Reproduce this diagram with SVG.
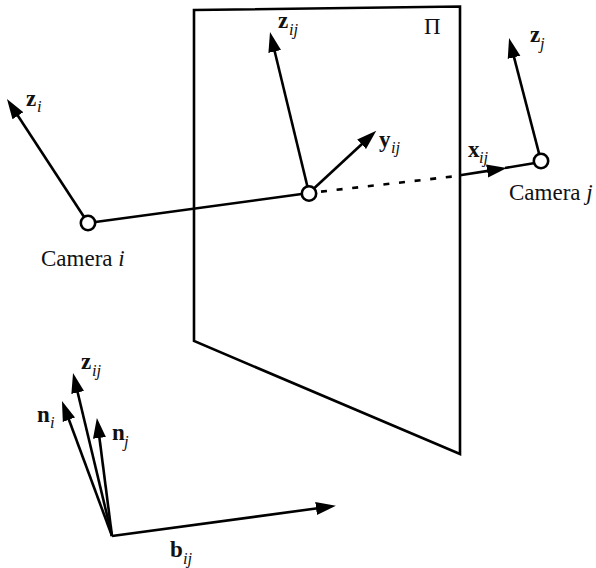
<svg xmlns="http://www.w3.org/2000/svg" width="596" height="568" viewBox="0 0 596 568">
<style>
text{font-family:"Liberation Serif","Times New Roman",serif;font-size:23px;fill:#111}
.b{font-weight:bold}
.s{font-style:italic;font-size:16.5px}
.i{font-style:italic}
.l{fill:none;stroke:#000;stroke-width:2.6}
.a{marker-end:url(#h)}
.n{fill:#fff;stroke:#000;stroke-width:2.6}
</style>
<defs>
<marker id="h" markerUnits="userSpaceOnUse" markerWidth="21" markerHeight="15" viewBox="0 0 21 15" refX="9" refY="7.5" orient="auto">
<polygon points="0,1 20,7.5 0,14" fill="#000"/>
</marker>
</defs>
<g id="plane"><path class="l" d="M194,10 L460,6.5 L460,454 L194,341 Z"/></g>
<g id="connectors">
<line class="l" x1="309" y1="193" x2="88" y2="223"/>
<line class="l" x1="321" y1="191.6" x2="452" y2="176.6" stroke-dasharray="6 9.7"/>
<line class="l a" x1="460" y1="175.3" x2="496" y2="169.6"/>
<line class="l" x1="505" y1="168" x2="541" y2="162"/>
<line class="l a" x1="88" y1="223" x2="13" y2="108.2"/>
<line class="l a" x1="309" y1="193" x2="272.6" y2="42.7"/>
<line class="l a" x1="309" y1="193" x2="368.2" y2="138.2"/>
<line class="l a" x1="541" y1="161" x2="511.8" y2="48.6"/>
<line class="l a" x1="112" y1="536" x2="75.6" y2="383.7"/>
<line class="l a" x1="112" y1="536" x2="65.8" y2="411.3"/>
<line class="l a" x1="112" y1="536" x2="98.3" y2="429"/>
<line class="l a" x1="112" y1="536" x2="325" y2="507.3"/>
</g>
<g id="camera-i"><circle class="n" cx="88" cy="223" r="7.2"/><text x="41" y="266">Camera <tspan class="i">i</tspan></text></g>
<g id="midpoint"><circle class="n" cx="309" cy="193.500" r="7.2"/></g>
<g id="camera-j"><circle class="n" cx="541" cy="161" r="7.2"/><text x="509" y="200">Camera <tspan class="i">j</tspan></text></g>
<g id="plane-label"><text x="424" y="34">Π</text></g>
<g id="axis-zi"><text x="26" y="106"><tspan class="b">z</tspan><tspan class="s" x="37" y="112">i</tspan></text></g>
<g id="axis-zij"><text x="278" y="28"><tspan class="b">z</tspan><tspan class="s" x="289" y="35">ij</tspan></text></g>
<g id="axis-yij"><text x="379" y="147"><tspan class="b">y</tspan><tspan class="s" x="391" y="153">ij</tspan></text></g>
<g id="axis-xij"><text x="468" y="157"><tspan class="b">x</tspan><tspan class="s" x="479" y="163">ij</tspan></text></g>
<g id="axis-zj"><text x="530" y="42"><tspan class="b">z</tspan><tspan class="s" x="540" y="49">j</tspan></text></g>
<g id="vec-zij"><text x="81" y="369"><tspan class="b">z</tspan><tspan class="s" x="92" y="376">ij</tspan></text></g>
<g id="vec-ni"><text x="37" y="422"><tspan class="b">n</tspan><tspan class="s" x="50" y="428">i</tspan></text></g>
<g id="vec-nj"><text x="112" y="440"><tspan class="b">n</tspan><tspan class="s" x="124" y="447">j</tspan></text></g>
<g id="vec-bij"><text x="170" y="557"><tspan class="b">b</tspan><tspan class="s" x="183" y="564">ij</tspan></text></g>
</svg>
